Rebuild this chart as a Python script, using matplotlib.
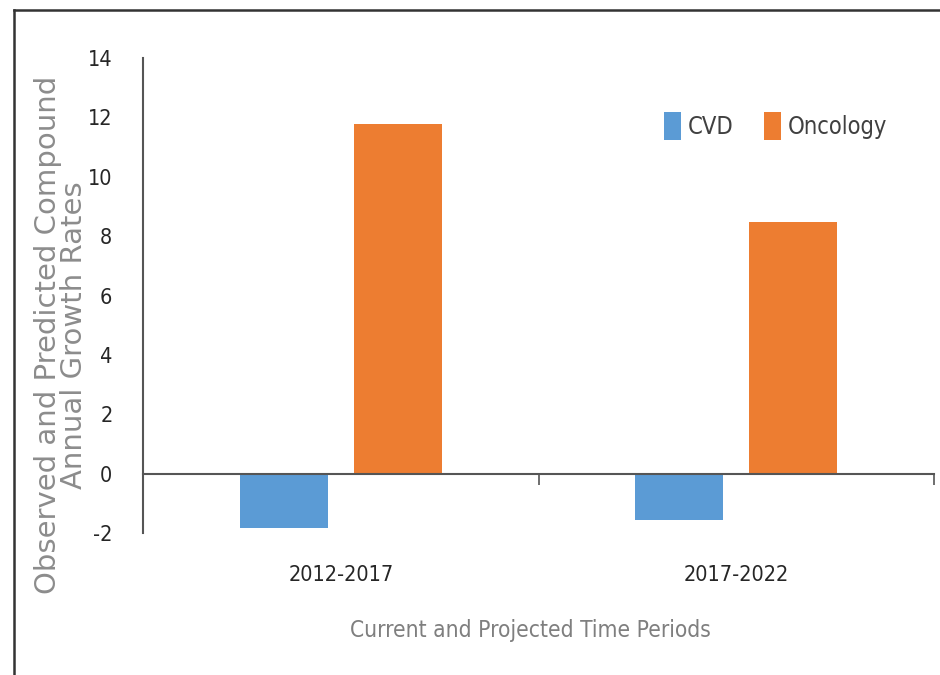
import matplotlib
matplotlib.use("Agg")
import matplotlib.pyplot as plt
from matplotlib.lines import Line2D
from matplotlib import font_manager
import numpy as np

periods = ["2012-2017", "2017-2022"]
cvd = [-1.82, -1.55]
oncology = [11.78, 8.48]
series_names = ["CVD", "Oncology"]
colors = ["#5B9BD5", "#ED7D31"]
yticks = [-2, 0, 2, 4, 6, 8, 10, 12, 14]

names = {f.name for f in font_manager.fontManager.ttflist}
narrow = "Liberation Sans Narrow" if "Liberation Sans Narrow" in names else "DejaVu Sans"
narrow_stretch = "normal" if narrow == "Liberation Sans Narrow" else "condensed"

fig = plt.figure(figsize=(9.4, 6.75), dpi=100)
ax = fig.add_axes([143/940, 1-533/675, (934-143)/940, (533-58)/675])

x = np.arange(len(periods))
w = 0.222
off = 0.144
ax.bar(x - off, cvd, w, color=colors[0], label=series_names[0])
ax.bar(x + off, oncology, w, color=colors[1], label=series_names[1])

ax.set_xlim(-0.5, 1.5)
ax.set_ylim(-2, 14)
ax.set_yticks(yticks)
ax.set_yticklabels([str(v) for v in yticks])

for s in ["top", "right"]:
    ax.spines[s].set_visible(False)
ax.spines["left"].set_color("#555555")
ax.spines["left"].set_linewidth(1.5)
ax.spines["bottom"].set_position(("data", 0))
ax.spines["bottom"].set_color("#555555")
ax.spines["bottom"].set_linewidth(1.5)

ax.set_xticks(x)
ax.set_xticklabels(periods)
ax.set_xticks([0.5, 1.5], minor=True)
ax.tick_params(axis="x", which="major", length=0, pad=66, labelsize=15.5, labelcolor="#262626")
ax.tick_params(axis="x", which="minor", length=8, width=1.2, color="#555555", direction="out")
ax.tick_params(axis="y", length=0, pad=22, labelsize=15.5, labelcolor="#262626")
for lab in ax.get_xticklabels() + ax.get_yticklabels():
    lab.set_family(narrow)
    lab.set_stretch(narrow_stretch)

fig.text(530/940, 1-630/675, "Current and Projected Time Periods", ha="center", va="center",
         fontsize=16.3, color="#7f7f7f", family=narrow, stretch=narrow_stretch)
fig.text(61/940, 1-335/675, "Observed and Predicted Compound\nAnnual Growth Rates",
         rotation=90, ha="center", va="center", multialignment="center",
         fontsize=21, color="#8c8c8c", family="DejaVu Sans", linespacing=0.95)

leg = ax.legend(loc="center", bbox_to_anchor=(776/940, 1-126/675), bbox_transform=fig.transFigure,
                ncol=2, frameon=False, handlelength=0.7, handleheight=1.5, handletextpad=0.3,
                columnspacing=1.3, prop={"family": narrow, "stretch": narrow_stretch, "size": 17})
for t in leg.get_texts():
    t.set_color("#404040")

fig.add_artist(Line2D([14/940, 14/940], [0, 1-10/675], transform=fig.transFigure, color="#333333", lw=1.8))
fig.add_artist(Line2D([14/940, 1], [1-10/675, 1-10/675], transform=fig.transFigure, color="#333333", lw=1.8))

fig.savefig("out.png", dpi=100)
